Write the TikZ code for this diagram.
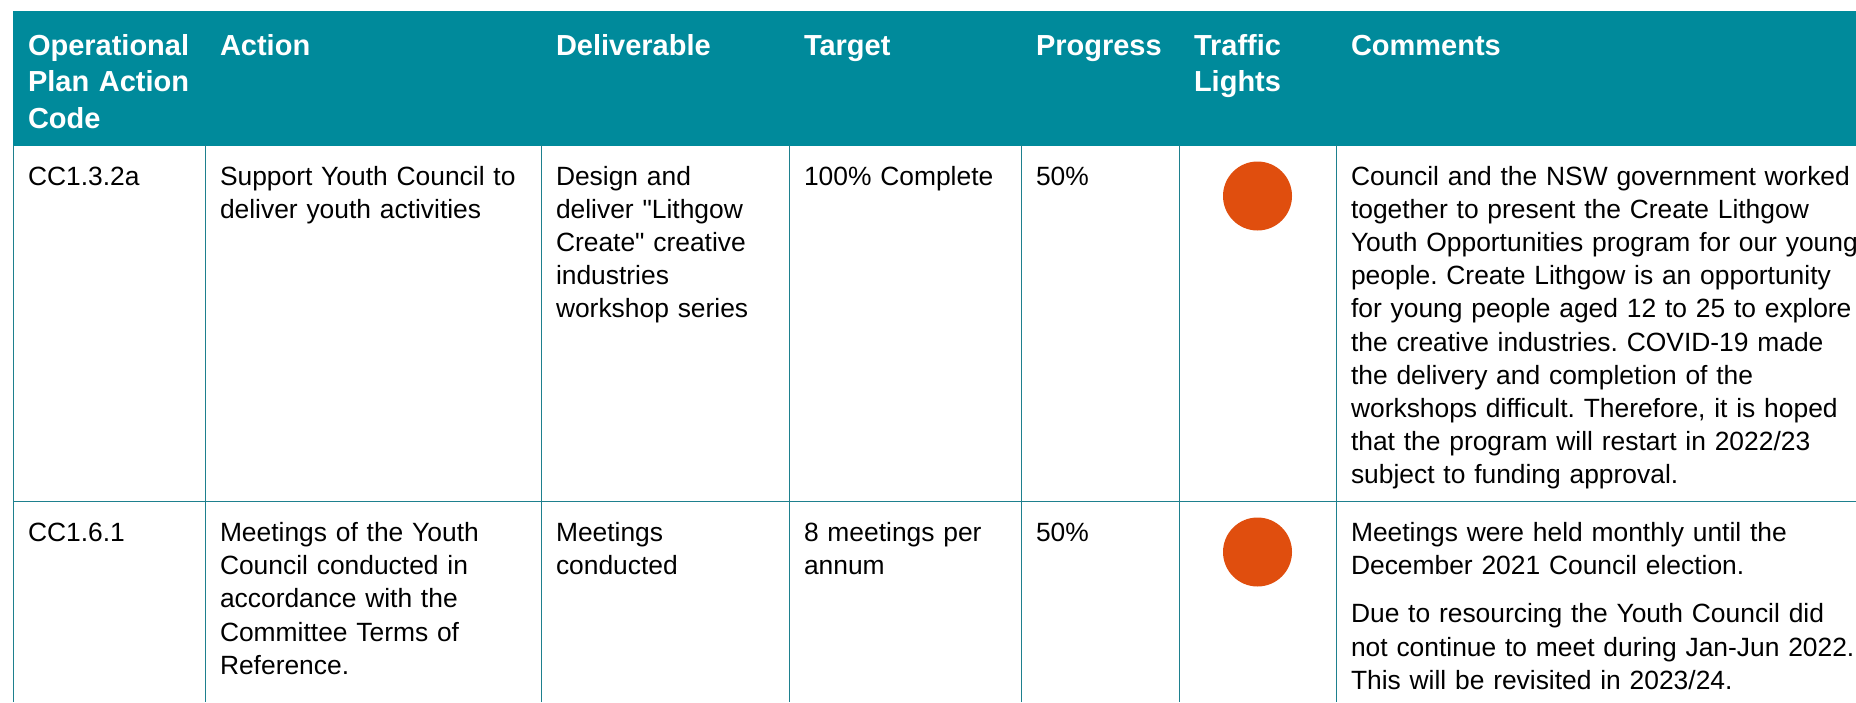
\documentclass[tikz,border=0pt]{standalone}
\usepackage{fontspec}
\setmainfont{Liberation Sans}[Ligatures=TeXOff]
\frenchspacing
\definecolor{headteal}{RGB}{0,138,155}
\definecolor{gridteal}{RGB}{30,128,142}
\definecolor{lightred}{RGB}{224,78,14}
\newcommand{\bodyfont}{\fontsize{13.2}{16.55}\selectfont}
\newcommand{\headfont}{\fontsize{14.5}{18.3}\selectfont\bfseries}

\begin{document}
\begin{tikzpicture}[x=0.5pt,y=-0.5pt]
	\tikzstyle{every node}=[inner sep=0pt, outer sep=0pt]
	\tikzstyle{head}=[anchor=base west, align=left, text width=300pt, text=white, font=\headfont]
	\tikzstyle{cell}=[anchor=base west, align=left, text width=330pt, font=\bodyfont]
	\tikzstyle{light}=[circle, fill=lightred, minimum size=34.5pt]
	\tikzstyle{grid}=[gridteal, line width=0.6pt]
	\useasboundingbox (0,0) rectangle (1856,702);
	\clip (0,0) rectangle (1856,702);
	% header band
	\fill[headteal] (13,11) rectangle (1856,145.5);
	% table rules
	\draw[grid] (13.5,145) -- (13.5,702);
	\draw[grid] (205.5,145) -- (205.5,702);
	\draw[grid] (541.5,145) -- (541.5,702);
	\draw[grid] (789.5,145) -- (789.5,702);
	\draw[grid] (1021.5,145) -- (1021.5,702);
	\draw[grid] (1179.5,145) -- (1179.5,702);
	\draw[grid] (1336.5,145) -- (1336.5,702);
	\draw[grid] (13,501.5) -- (1856,501.5);
	% header
	\draw (28,55) node (hcode) [head] {Operational\\Plan Action\\Code};
	\draw (220,55) node (hact) [head] {Action};
	\draw (556,55) node (hdel) [head] {Deliverable};
	\draw (804,55) node (htar) [head] {Target};
	\draw (1036,55) node (hprog) [head] {Progress};
	\draw (1194,55) node (hlight) [head] {Traffic\\Lights};
	\draw (1351,55) node (hcom) [head] {Comments};
	% row 1
	\draw (28,185.5) node (code1) [cell] {CC1.3.2a};
	\draw (220,185.5) node (act1) [cell] {Support Youth Council to\\deliver youth activities};
	\draw (556,185.5) node (del1) [cell] {Design and\\deliver "Lithgow\\Create" creative\\industries\\workshop series};
	\draw (804,185.5) node (tar1) [cell] {100\% Complete};
	\draw (1036,185.5) node (prog1) [cell] {50\%};
	\draw (1257.5,196) node (light1) [light] {};
	\draw (1351,185.5) node (com1) [cell] {Council and the NSW government worked\\together to present the Create Lithgow\\Youth Opportunities program for our young\\people. Create Lithgow is an opportunity\\for young people aged 12 to 25 to explore\\the creative industries. COVID-19 made\\the delivery and completion of the\\workshops difficult. Therefore, it is hoped\\that the program will restart in 2022/23\\subject to funding approval.};
	% row 2
	\draw (28,541.7) node (code2) [cell] {CC1.6.1};
	\draw (220,541.7) node (act2) [cell] {Meetings of the Youth\\Council conducted in\\accordance with the\\Committee Terms of\\Reference.};
	\draw (556,541.7) node (del2) [cell] {Meetings\\conducted};
	\draw (804,541.7) node (tar2) [cell] {8 meetings per\\annum};
	\draw (1036,541.7) node (prog2) [cell] {50\%};
	\draw (1257.5,552) node (light2) [light] {};
	\draw (1351,541.7) node (com2) [cell] {Meetings were held monthly until the\\December 2021 Council election.\\[7.5pt]Due to resourcing the Youth Council did\\not continue to meet during Jan-Jun 2022.\\This will be revisited in 2023/24.};
\end{tikzpicture}
\end{document}
